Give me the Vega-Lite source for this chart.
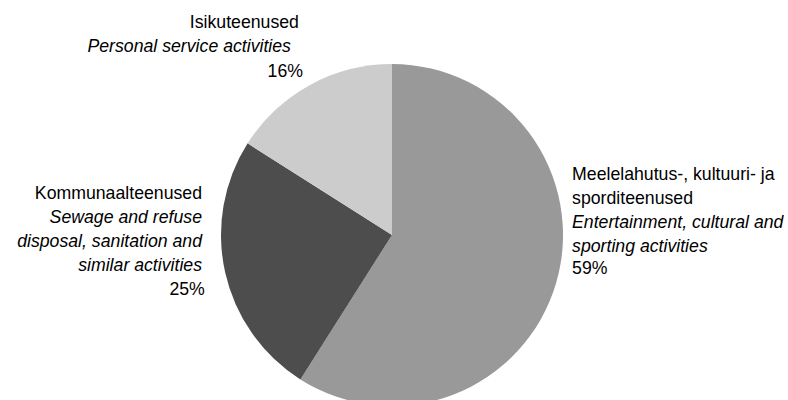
{
  "$schema": "https://vega.github.io/schema/vega-lite/v6.json",
  "width": 784,
  "height": 470,
  "padding": 0,
  "autosize": {"type": "none"},
  "background": "white",
  "config": {"view": {"stroke": null}, "text": {"font": "Liberation Sans", "fontSize": 17.7, "lineHeight": 24, "lineBreak": "\n", "baseline": "middle", "color": "#000000"}},
  "data": {
    "values": [
      {"cat": "Meelelahutus", "et": "Meelelahutus-, kultuuri- ja\nsporditeenused", "en": "Entertainment, cultural and\nsporting activities", "share": 0.59},
      {"cat": "Kommunaal", "et": "Kommunaalteenused", "en": "Sewage and refuse\ndisposal, sanitation and\nsimilar activities", "share": 0.25},
      {"cat": "Isik", "et": "Isikuteenused", "en": "Personal service activities", "share": 0.16}
    ]
  },
  "encoding": {
    "theta": {"field": "share", "type": "quantitative", "stack": true},
    "order": {"field": "share", "type": "quantitative", "sort": "descending"}
  },
  "layer": [
    {
      "mark": {"type": "arc", "outerRadius": 171},
      "encoding": {
        "color": {"field": "cat", "type": "nominal", "legend": null,
          "scale": {"domain": ["Meelelahutus", "Kommunaal", "Isik"], "range": ["#999999", "#4d4d4d", "#cccccc"]}}
      }
    },
    {
      "mark": {"type": "text", "radius": 200, "align": "left", "dx": -12, "dy": -115.8},
      "encoding": {"text": {"condition": {"test": "datum.cat === 'Meelelahutus'", "field": "et", "type": "nominal"}, "value": ""}}
    },
    {
      "mark": {"type": "text", "radius": 200, "align": "left", "dx": -12, "dy": -67.8, "fontStyle": "italic"},
      "encoding": {"text": {"condition": {"test": "datum.cat === 'Meelelahutus'", "field": "en", "type": "nominal"}, "value": ""}}
    },
    {
      "mark": {"type": "text", "radius": 200, "align": "left", "dx": -12, "dy": -21.8},
      "encoding": {"text": {"condition": {"test": "datum.cat === 'Meelelahutus'", "field": "share", "type": "quantitative", "format": ".0%"}, "value": ""}}
    },
    {
      "mark": {"type": "text", "radius": 200, "align": "right", "dx": 5.2, "dy": -84.6},
      "encoding": {"text": {"condition": {"test": "datum.cat === 'Kommunaal'", "field": "et", "type": "nominal"}, "value": ""}}
    },
    {
      "mark": {"type": "text", "radius": 200, "align": "right", "dx": 5.2, "dy": -60.6, "fontStyle": "italic"},
      "encoding": {"text": {"condition": {"test": "datum.cat === 'Kommunaal'", "field": "en", "type": "nominal"}, "value": ""}}
    },
    {
      "mark": {"type": "text", "radius": 200, "align": "right", "dx": 8, "dy": 11.4},
      "encoding": {"text": {"condition": {"test": "datum.cat === 'Kommunaal'", "field": "share", "type": "quantitative", "format": ".0%"}, "value": ""}}
    },
    {
      "mark": {"type": "text", "radius": 200, "align": "right", "dx": 3.3, "dy": -36.8},
      "encoding": {"text": {"condition": {"test": "datum.cat === 'Isik'", "field": "et", "type": "nominal"}, "value": ""}}
    },
    {
      "mark": {"type": "text", "radius": 200, "align": "right", "dx": -4.7, "dy": -12.8, "fontStyle": "italic"},
      "encoding": {"text": {"condition": {"test": "datum.cat === 'Isik'", "field": "en", "type": "nominal"}, "value": ""}}
    },
    {
      "mark": {"type": "text", "radius": 200, "align": "right", "dx": 7.3, "dy": 12.2},
      "encoding": {"text": {"condition": {"test": "datum.cat === 'Isik'", "field": "share", "type": "quantitative", "format": ".0%"}, "value": ""}}
    }
  ]
}
